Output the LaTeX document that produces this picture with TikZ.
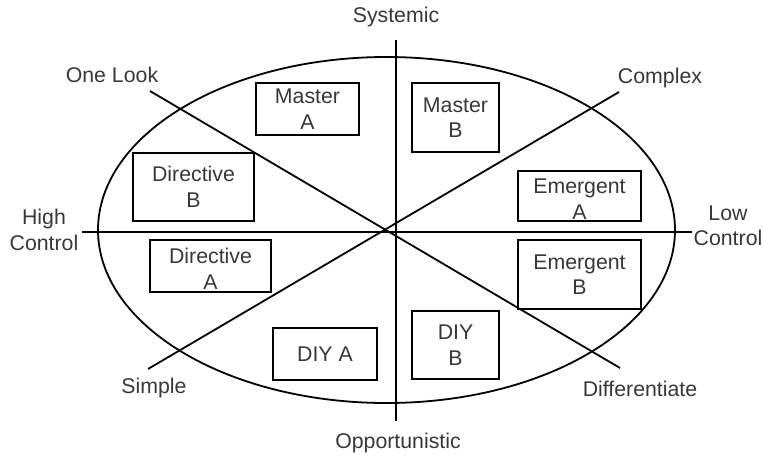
\documentclass[tikz,border=0pt]{standalone}
\usepackage{fontspec}
\setmainfont{Liberation Sans}
\begin{document}
\begin{tikzpicture}[x=1pt,y=-1pt,
  lbl/.style={font=\fontsize{21.3}{25.5}\selectfont, text=black!78, align=center, inner sep=0pt},
  boxnode/.style={draw=black, line width=2pt, font=\fontsize{21.3}{25.5}\selectfont, text=black!78, align=center, inner sep=0pt},
  axisline/.style={line width=1.8pt, black}]
\useasboundingbox (0,0) rectangle (763,456);
\fill[white] (0,0) rectangle (763,456);
% ellipse
\draw[axisline] (386.5,230) ellipse [x radius=288.5pt, y radius=173pt];
% axis end points
\coordinate (hl) at (82,232);
\coordinate (hr) at (692,232);
\coordinate (vt) at (396,40);
\coordinate (vb) at (396,421);
\coordinate (d1a) at (150,91);
\coordinate (d1b) at (620,368);
\coordinate (d2a) at (619,92);
\coordinate (d2b) at (148,369);
\draw[axisline] (hl) -- (hr);
\draw[axisline] (vt) -- (vb);
\draw[axisline] (d1a) -- (d1b);
\draw[axisline] (d2a) -- (d2b);
% boxes
\node[boxnode, minimum width=103, minimum height=52] (masterA) at (307.5,109) {Master\\A};
\node[boxnode, minimum width=87, minimum height=69] (masterB) at (455.5,117.5) {Master\\B};
\node[boxnode, minimum width=121, minimum height=68] (directiveB) at (193.5,187) {Directive\\B};
\node[boxnode, minimum width=123, minimum height=50] (emergentA) at (579.5,196) {};
\node[lbl] at (579.5,199) {Emergent\\A};
\node[boxnode, minimum width=121, minimum height=52] (directiveA) at (210.5,266) {};
\node[lbl] at (210.5,269) {Directive\\A};
\node[boxnode, minimum width=123, minimum height=69] (emergentB) at (579.5,274.5) {Emergent\\B};
\node[boxnode, minimum width=104, minimum height=52] (diyA) at (325,354) {DIY A};
\node[boxnode, minimum width=87, minimum height=68] (diyB) at (455.5,345) {DIY\\B};
% labels
\node[lbl] (systemic) at (396,17) {Systemic};
\node[lbl] (onelook) at (112,75) {One Look};
\node[lbl] (complex) at (660,78) {Complex};
\node[lbl] (high) at (44,230) {High\\Control};
\node[lbl] (low) at (728,226) {Low\\Control};
\node[lbl] (simple) at (154,388) {Simple};
\node[lbl] (diff) at (640,389) {Differentiate};
\node[lbl] (opp) at (398,443) {Opportunistic};
\end{tikzpicture}
\end{document}
